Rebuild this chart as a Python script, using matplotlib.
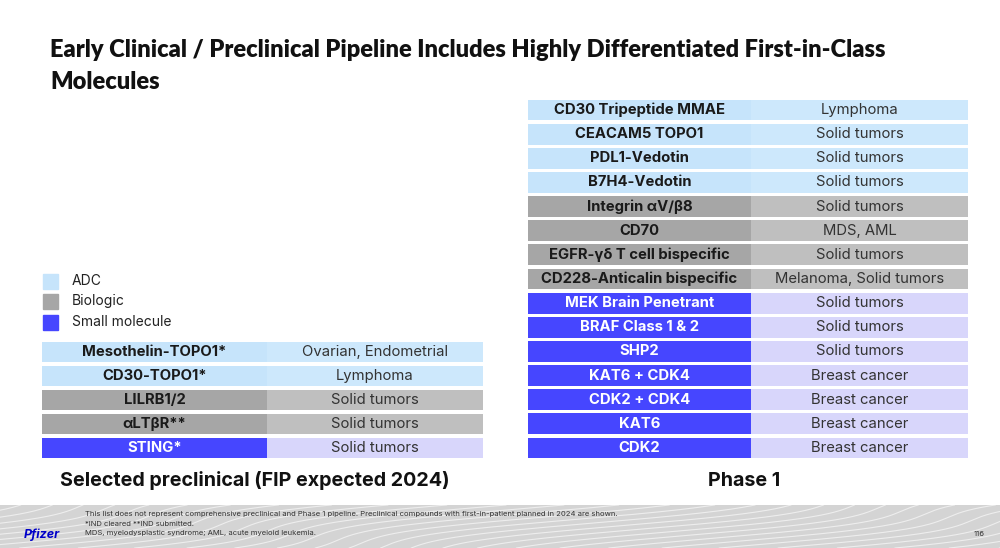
import matplotlib.pyplot as plt
import numpy as np
from matplotlib.patches import Rectangle

plt.rcParams['font.family'] = ['Inter', 'DejaVu Sans']

# data
pre_names = ['Mesothelin-TOPO1*', 'CD30-TOPO1*', 'LILRB1/2', 'αLTβR**', 'STING*']
pre_indications = ['Ovarian, Endometrial', 'Lymphoma', 'Solid tumors', 'Solid tumors', 'Solid tumors']
pre_types = ['ADC', 'ADC', 'Biologic', 'Biologic', 'Small molecule']

ph1_names = ['CD30 Tripeptide MMAE', 'CEACAM5 TOPO1', 'PDL1-Vedotin', 'B7H4-Vedotin',
             'Integrin αV/β8', 'CD70', 'EGFR-γδ T cell bispecific', 'CD228-Anticalin bispecific',
             'MEK Brain Penetrant', 'BRAF Class 1 & 2', 'SHP2', 'KAT6 + CDK4', 'CDK2 + CDK4',
             'KAT6', 'CDK2']
ph1_indications = ['Lymphoma', 'Solid tumors', 'Solid tumors', 'Solid tumors', 'Solid tumors',
                   'MDS, AML', 'Solid tumors', 'Melanoma, Solid tumors', 'Solid tumors',
                   'Solid tumors', 'Solid tumors', 'Breast cancer', 'Breast cancer',
                   'Breast cancer', 'Breast cancer']
ph1_types = ['ADC'] * 4 + ['Biologic'] * 4 + ['Small molecule'] * 7

legend_types = ['ADC', 'Biologic', 'Small molecule']

# style
name_colors = {'ADC': '#c6e4fb', 'Biologic': '#a6a6a6', 'Small molecule': '#4646ff'}
ind_colors = {'ADC': '#cde8fc', 'Biologic': '#bfbfbf', 'Small molecule': '#d8d6fb'}
name_text = {'ADC': '#1a1a1a', 'Biologic': '#1a1a1a', 'Small molecule': 'white'}

fig = plt.figure(figsize=(10, 5.48), dpi=100)
W, H = 1000, 548


def draw_table(rect, names, inds, types, split):
    ax = fig.add_axes(rect)
    n = len(names)
    y = list(range(n))
    ax.barh(y, [split] * n, left=0, height=0.86,
            color=[name_colors[t] for t in types], edgecolor='none')
    ax.barh(y, [1 - split] * n, left=split, height=0.86,
            color=[ind_colors[t] for t in types], edgecolor='none')
    for i in y:
        ax.text(split / 2, i, names[i], ha='center', va='center', fontsize=10.7,
                fontweight='bold', color=name_text[types[i]])
        ax.text(split + (1 - split) / 2, i, inds[i], ha='center', va='center',
                fontsize=10.7, color='#333333')
    ax.set_xlim(0, 1)
    ax.set_ylim(n - 0.5, -0.5)
    ax.axis('off')
    return ax


draw_table([42 / W, 1 - 460 / H, 441 / W, 120 / H], pre_names, pre_indications, pre_types, 0.51)
draw_table([528 / W, 1 - 460 / H, 440 / W, 362 / H], ph1_names, ph1_indications, ph1_types, 0.507)

# title
title_font = ['Lato', 'DejaVu Sans']
fig.text(50 / W, 1 - 50 / H, 'Early Clinical / Preclinical Pipeline Includes Highly Differentiated First-in-Class',
         fontsize=17, fontweight='heavy', family=title_font, va='center', color='#111111')
fig.text(50 / W, 1 - 82 / H, 'Molecules',
         fontsize=17, fontweight='heavy', family=title_font, va='center', color='#111111')

# legend
for k, t in enumerate(legend_types):
    yc = 281 + k * 20.5
    fig.patches.append(Rectangle((43 / W, 1 - (yc + 7.5) / H), 15 / W, 15 / H,
                                 transform=fig.transFigure, color=name_colors[t]))
    fig.text(72 / W, 1 - yc / H, t, fontsize=10, va='center', color='#222222')

# section labels
fig.text(255 / W, 1 - 481 / H, 'Selected preclinical (FIP expected 2024)', ha='center', va='center',
         fontsize=14.2, fontweight='bold', color='#111111')
fig.text(744 / W, 1 - 481 / H, 'Phase 1', ha='center', va='center',
         fontsize=14.2, fontweight='bold', color='#111111')

# footer band with faint wave decoration
fax = fig.add_axes([0, 0, 1, 43 / H], zorder=0)
fax.set_facecolor('#d4d4d4')
xx = np.linspace(0, 1, 300)
for off in np.arange(-0.3, 1.1, 0.045):
    fax.plot(xx * 0.3 + off + 0.04 * np.sin(xx * 5 + off * 8), xx, color='white', lw=0.8, alpha=0.6)
fax.set_xlim(0, 1)
fax.set_ylim(0, 1)
fax.set_xticks([])
fax.set_yticks([])
for s in fax.spines.values():
    s.set_visible(False)

foot = ['This list does not represent comprehensive preclinical and Phase 1 pipeline. '
        'Preclinical compounds with first-in-patient planned in 2024 are shown.',
        '*IND cleared **IND submitted.',
        'MDS, myelodysplastic syndrome; AML, acute myeloid leukemia.']
for k, s in enumerate(foot):
    fig.text(85 / W, 1 - (514 + k * 9.5) / H, s, fontsize=5.5, va='center', color='#333333')
fig.text(24 / W, 1 - 535 / H, 'Pfizer', fontsize=9, fontweight='bold', style='italic',
         color='#0000c9', va='center')
fig.text(985 / W, 1 - 534 / H, '116', fontsize=5.5, ha='right', va='center', color='#333333')

fig.savefig('out.png', dpi=100, facecolor='white')
